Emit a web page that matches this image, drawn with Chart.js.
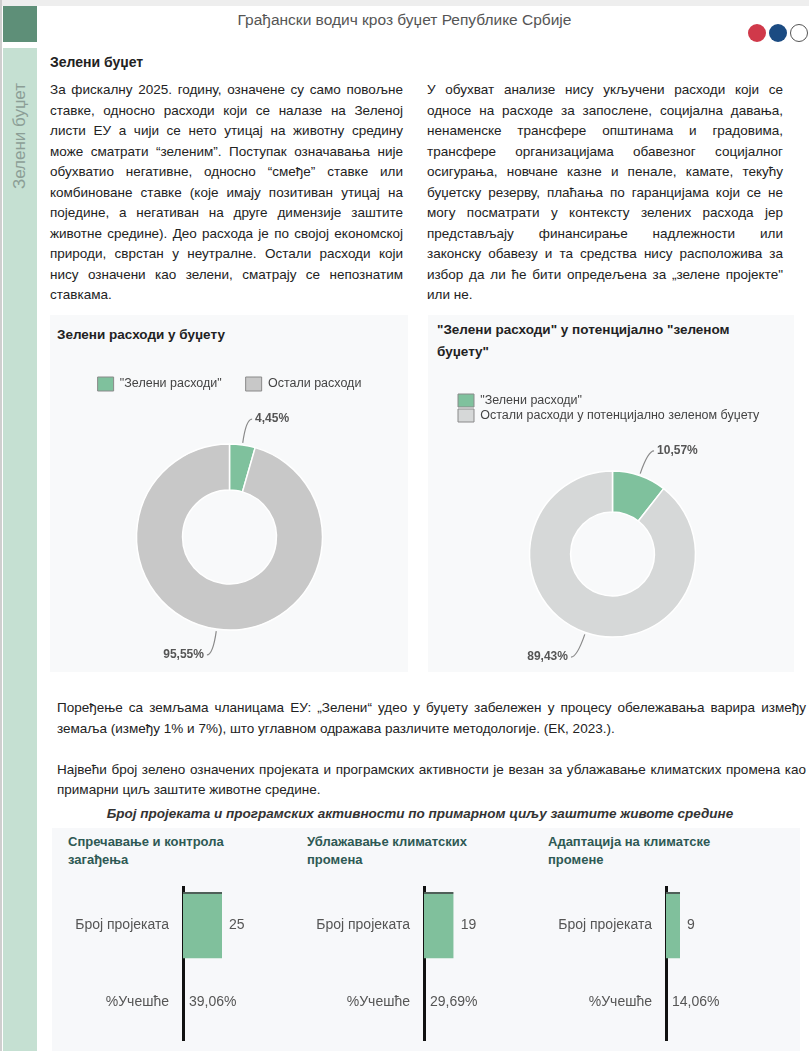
<!DOCTYPE html>
<html><head><meta charset="utf-8">
<script src="https://cdn.jsdelivr.net/npm/chart.js@4.4.1/dist/chart.umd.min.js"></script>
<style>
html,body{margin:0;padding:0;background:#fff;}
body{width:809px;height:1051px;position:relative;overflow:hidden;font-family:"Liberation Sans",Arial,sans-serif;color:#222;}
.abs{position:absolute;}
.para{position:absolute;font-size:13.5px;line-height:20.5px;color:#222;}
.para div{text-align:justify;text-align-last:justify;}
.para div.last{text-align-last:left;}
.line{position:absolute;white-space:nowrap;font-size:13.5px;line-height:20px;color:#222;}
.jline{position:absolute;font-size:13.5px;line-height:20px;color:#222;text-align:justify;text-align-last:justify;width:749px;}
.ptitle{position:absolute;font-weight:bold;font-size:13.5px;line-height:22px;color:#222;white-space:nowrap;}
.btitle{position:absolute;font-weight:bold;font-size:13px;line-height:18px;color:#2e5954;white-space:nowrap;}
canvas{position:absolute;}
.dot{position:absolute;width:18px;height:18px;border-radius:50%;}
</style>
</head><body>
<!-- decorations -->
<div class="abs" style="left:0;top:0;width:809px;height:6px;background:#eeeeee"></div>
<div class="abs" style="left:0;top:0;width:2px;height:1051px;background:#cfcfcf"></div>
<div class="abs" style="left:3px;top:6px;width:34px;height:36px;background:#5e8f78"></div>
<div class="abs" style="left:3px;top:48px;width:34px;height:1003px;background:#c5e0d2"></div>
<div class="abs" style="left:-40px;top:124px;width:120px;height:24px;line-height:24px;text-align:center;transform:rotate(-90deg);font-size:17px;color:#8c9e96;white-space:nowrap">Зелени буџет</div>
<div class="abs" style="left:0;top:10px;width:809px;text-align:center;font-size:15.5px;line-height:20px;color:#555">Грађански водич кроз буџет Републике Србије</div>
<div class="dot" style="left:748px;top:24px;background:#d0394a"></div>
<div class="dot" style="left:769px;top:24px;background:#1b4b82"></div>
<div class="dot" style="left:790px;top:24px;background:#fff;border:1px solid #555;box-sizing:border-box"></div>

<div class="ptitle" style="left:50px;top:51px;font-size:14px">Зелени буџет</div>

<div class="para" style="left:50px;top:80px;width:353px">
<div>За фискалну 2025. годину, означене су само повољне</div>
<div>ставке, односно расходи који се налазе на Зеленој</div>
<div>листи ЕУ а чији се нето утицај на животну средину</div>
<div>може сматрати “зеленим”. Поступак означавања није</div>
<div>обухватио негативне, односно “смеђе” ставке или</div>
<div>комбиноване ставке (које имају позитиван утицај на</div>
<div>поједине, а негативан на друге димензије заштите</div>
<div>животне средине). Део расхода је по својој економској</div>
<div>природи, сврстан у неутралне. Остали расходи који</div>
<div>нису означени као зелени, сматрају се непознатим</div>
<div class="last">ставкама.</div>
</div>

<div class="para" style="left:427px;top:80px;width:356px">
<div>У обухват анализе нису укључени расходи који се</div>
<div>односе на расходе за запослене, социјална давања,</div>
<div>ненаменске трансфере општинама и градовима,</div>
<div>трансфере организацијама обавезног социјалног</div>
<div>осигурања, новчане казне и пенале, камате, текућу</div>
<div>буџетску резерву, плаћања по гаранцијама који се не</div>
<div>могу посматрати у контексту зелених расхода јер</div>
<div>представљају финансирање надлежности или</div>
<div>законску обавезу и та средства нису расположива за</div>
<div>избор да ли ће бити опредељена за „зелене пројекте"</div>
<div class="last">или не.</div>
</div>

<!-- donut panels -->
<div class="abs" style="left:50px;top:315px;width:358px;height:357px;background:#f8f9fa"></div>
<div class="abs" style="left:428px;top:315px;width:366px;height:357px;background:#f8f9fa"></div>
<div class="ptitle" style="left:57px;top:324px">Зелени расходи у буџету</div>
<div class="ptitle" style="left:437px;top:319px">"Зелени расходи" у потенцијално "зеленом<br>буџету"</div>
<canvas id="d1" width="359" height="335" style="left:50px;top:345px"></canvas>
<canvas id="d2" width="369" height="300" style="left:428px;top:380px"></canvas>

<div class="jline" style="left:57px;top:698px">Поређење са земљама чланицама ЕУ: „Зелени“ удео у буџету забележен у процесу обележавања варира између</div>
<div class="line" style="left:57px;top:719px">земаља (између 1% и 7%), што углавном одражава различите методологије. (ЕК, 2023.).</div>
<div class="jline" style="left:57px;top:760px">Највећи број зелено означених пројеката и програмских активности је везан за ублажавање климатских промена као</div>
<div class="line" style="left:57px;top:780px">примарни циљ заштите животне средине.</div>
<div class="line" style="left:0;top:804px;width:840px;text-align:center;font-weight:bold;font-style:italic;color:#333">Број пројеката и програмских активности по примарном циљу заштите животе средине</div>

<div class="abs" style="left:52px;top:828px;width:748px;height:223px;background:#f7f8fa"></div>
<div class="btitle" style="left:68px;top:833px">Спречавање и контрола<br>загађења</div>
<div class="btitle" style="left:307px;top:833px">Ублажавање климатских<br>промена</div>
<div class="btitle" style="left:548px;top:833px">Адаптација на климатске<br>промене</div>
<canvas id="b0" width="240" height="181" style="left:57px;top:870px"></canvas>
<canvas id="b1" width="240" height="181" style="left:298px;top:870px"></canvas>
<canvas id="b2" width="240" height="181" style="left:540px;top:870px"></canvas>

<script>
// ---- data ----
const donut1Labels = ['"Зелени расходи"', 'Остали расходи'];
const donut1Values = [4.45, 95.55];
const donut2Labels = ['"Зелени расходи"', 'Остали расходи у потенцијално зеленом буџету'];
const donut2Values = [10.57, 89.43];
const barCategories = ['Број пројеката', '%Учешће'];
const barGoals = ['Спречавање и контрола загађења', 'Ублажавање климатских промена', 'Адаптација на климатске промене'];
const projectCounts = [25, 19, 9];
const projectShares = [39.06, 29.69, 14.06];

const FONT = '"Liberation Sans", Arial, sans-serif';
const fmt = v => v.toFixed(2).replace('.', ',') + '%';

const leaderPlugin = {
  id: 'leader',
  afterDatasetsDraw(chart, args, opts) {
    const ctx = chart.ctx;
    const meta = chart.getDatasetMeta(0);
    const ds = chart.data.datasets[0];
    meta.data.forEach((arc, i) => {
      const p = arc.getProps(['x','y','startAngle','endAngle','outerRadius'], true);
      const mid = (p.startAngle + p.endAngle) / 2;
      const c = Math.cos(mid), s = Math.sin(mid);
      const r0 = p.outerRadius + 2, r1 = p.outerRadius + opts.len;
      const x0 = p.x + c * r0, y0 = p.y + s * r0;
      const x1 = p.x + c * r1, y1 = p.y + s * r1;
      const dir = c >= 0 ? 1 : -1;
      const x2 = x1 + dir * 6, y2 = y1;
      ctx.save();
      ctx.strokeStyle = '#8a8a8a'; ctx.lineWidth = 1.2;
      ctx.beginPath(); ctx.moveTo(x0, y0); ctx.quadraticCurveTo(x1, y1, x2, y2); ctx.stroke();
      ctx.font = 'bold 12px ' + FONT;
      ctx.fillStyle = '#555';
      ctx.textAlign = dir > 0 ? 'left' : 'right';
      ctx.textBaseline = 'middle';
      ctx.fillText(fmt(ds.data[i]), x2 + dir * 3, y2);
      ctx.restore();
    });
  }
};

function makeDonut(id, labels, values, gray, radius, cutout, padding, legendPad, boxH, align, len) {
  return new Chart(document.getElementById(id), {
    type: 'doughnut',
    data: { labels: labels, datasets: [{ data: values, backgroundColor: ['#7fc19d', gray], borderColor: '#ffffff', borderWidth: 1.5, radius: radius, cutout: cutout }] },
    options: {
      responsive: false, animation: false,
      layout: { padding: padding },
      plugins: {
        tooltip: { enabled: false },
        leader: { len: len },
        legend: {
          position: 'top', align: align,
          labels: {
            boxWidth: 16, boxHeight: boxH, padding: legendPad, color: '#444',
            font: { family: FONT, size: 12.5 },
            generateLabels(chart) {
              const ds = chart.data.datasets[0];
              return chart.data.labels.map((l, i) => ({ text: l, fillStyle: ds.backgroundColor[i], strokeStyle: '#8a8a8a', lineWidth: 1, hidden: false, index: i, fontColor: '#444' }));
            }
          }
        }
      }
    },
    plugins: [leaderPlugin]
  });
}

makeDonut('d1', donut1Labels, donut1Values, '#c8c8c8', 93, '50.5%', { top: 8, bottom: 7, left: 0, right: 0 }, 24, 14, 'center', 26);
makeDonut('d2', donut2Labels, donut2Values, '#d6d8d8', 83, '50.5%', { top: 12, bottom: 4, left: 28, right: 28 }, 2, 13, 'start', 26);

const barLabelPlugin = {
  id: 'barLabels',
  afterDatasetsDraw(chart, args, opts) {
    const ctx = chart.ctx;
    const meta = chart.getDatasetMeta(0);
    const xs = chart.scales.x, ys = chart.scales.y;
    const i = opts.idx;
    ctx.save();
    ctx.font = '14px ' + FONT; ctx.fillStyle = '#555';
    ctx.textBaseline = 'middle'; ctx.textAlign = 'left';
    const b = meta.data[0];
    ctx.fillText(String(projectCounts[i]), b.x + 7, b.y);
    ctx.fillText(fmt(projectShares[i]), xs.getPixelForValue(0) + 6, ys.getPixelForValue(1));
    ctx.restore();
  }
};

projectCounts.forEach((cnt, i) => {
  new Chart(document.getElementById('b' + i), {
    type: 'bar',
    data: { labels: barCategories, datasets: [{ label: barGoals[i], data: [cnt, null], backgroundColor: '#80c09c', borderColor: '#4f5f58', borderWidth: { top: 2, right: 0, bottom: 0, left: 0 }, borderSkipped: false, barPercentage: 0.87, categoryPercentage: 1 }] },
    options: {
      indexAxis: 'y', responsive: false, animation: false,
      layout: { padding: { top: 17, bottom: 11, left: 0, right: 0 } },
      plugins: { legend: { display: false }, tooltip: { enabled: false }, barLabels: { idx: i } },
      scales: {
        x: { display: false, min: 0, max: 73 },
        y: {
          grid: { display: false, drawTicks: false },
          border: { display: true, color: '#111', width: 3 },
          ticks: { color: '#555', font: { family: FONT, size: 14 }, padding: 14 },
          afterFit(s) { s.width = 126; s.paddingTop = 0; s.paddingBottom = 0; }
        }
      }
    },
    plugins: [barLabelPlugin]
  });
});
</script>
</body></html>
